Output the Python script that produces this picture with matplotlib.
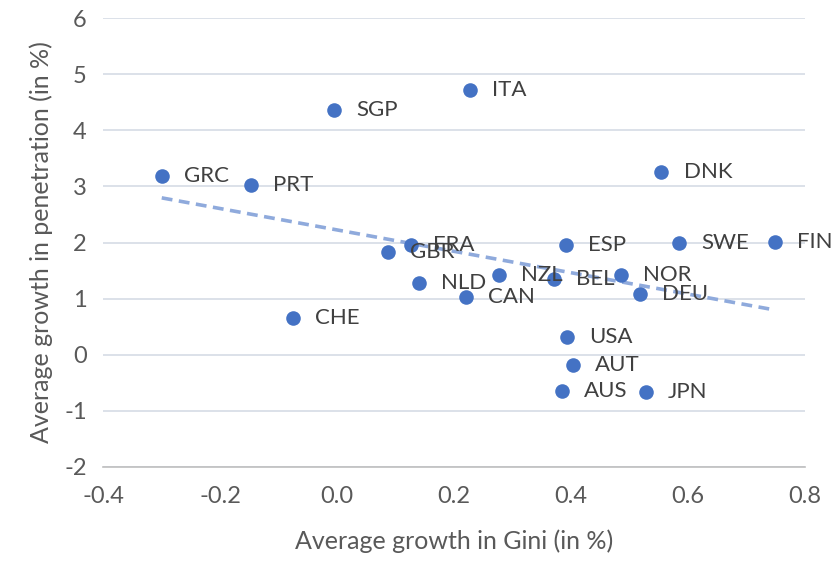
import numpy as np
import matplotlib.pyplot as plt

plt.rcParams['font.family'] = ['Lato', 'DejaVu Sans']
plt.rcParams['axes.unicode_minus'] = False

countries = ["GRC", "PRT", "SGP", "ITA", "DNK", "FRA", "GBR", "ESP", "SWE", "FIN",
             "NLD", "NZL", "BEL", "NOR", "DEU", "CAN", "CHE", "USA", "AUT", "AUS", "JPN"]
gini_growth = [-0.30, -0.147, -0.005, 0.227, 0.555, 0.126, 0.087, 0.391, 0.585, 0.749,
               0.140, 0.277, 0.371, 0.485, 0.518, 0.221, -0.075, 0.393, 0.403, 0.385, 0.528]
pen_growth = [3.19, 3.03, 4.37, 4.72, 3.26, 1.96, 1.84, 1.96, 2.00, 2.01,
              1.28, 1.43, 1.35, 1.43, 1.09, 1.03, 0.66, 0.32, -0.18, -0.64, -0.66]

x = np.array(gini_growth)
y = np.array(pen_growth)

fig = plt.figure(figsize=(8.33, 5.66), dpi=100)
ax = fig.add_axes([0.124, 0.175, 0.842, 0.793])

ax.scatter(x, y, s=110, color="#4472C4", zorder=3, linewidths=0)
for c, xi, yi in zip(countries, x, y):
    ax.annotate(c, (xi, yi), xytext=(16, 0), textcoords="offset points",
                va="center", ha="left", fontsize=16, color="#404040", zorder=4)

slope, intercept = np.polyfit(x, y, 1)
xt = np.array([x.min(), x.max()])
ax.plot(xt, slope * xt + intercept, linestyle=(0, (3, 1.8)), linewidth=2.6,
        color="#8FAADC", zorder=2)

ax.set_xlim(-0.4, 0.8)
ax.set_ylim(-2, 6)
ax.set_xticks(np.arange(-0.4, 0.81, 0.2))
ax.set_xticklabels([f"{v:.1f}" for v in np.arange(-0.4, 0.81, 0.2)])
ax.set_yticks(range(-2, 7))
ax.grid(axis="y", color="#D6DCE5", linewidth=1.2, zorder=0)
ax.set_axisbelow(True)
for s in ["top", "right", "left"]:
    ax.spines[s].set_visible(False)
ax.spines["bottom"].set_color("#BFBFBF")
ax.spines["bottom"].set_linewidth(1.2)
ax.tick_params(length=0, labelsize=17, labelcolor="#595959")
ax.tick_params(axis="x", pad=14)
ax.tick_params(axis="y", pad=12)

ax.set_xlabel("Average growth in Gini (in %)", fontsize=18, color="#595959", labelpad=16)
ax.set_ylabel("Average growth in penetration (in %)", fontsize=18, color="#595959", labelpad=8)

fig.savefig("out.png", dpi=100)
